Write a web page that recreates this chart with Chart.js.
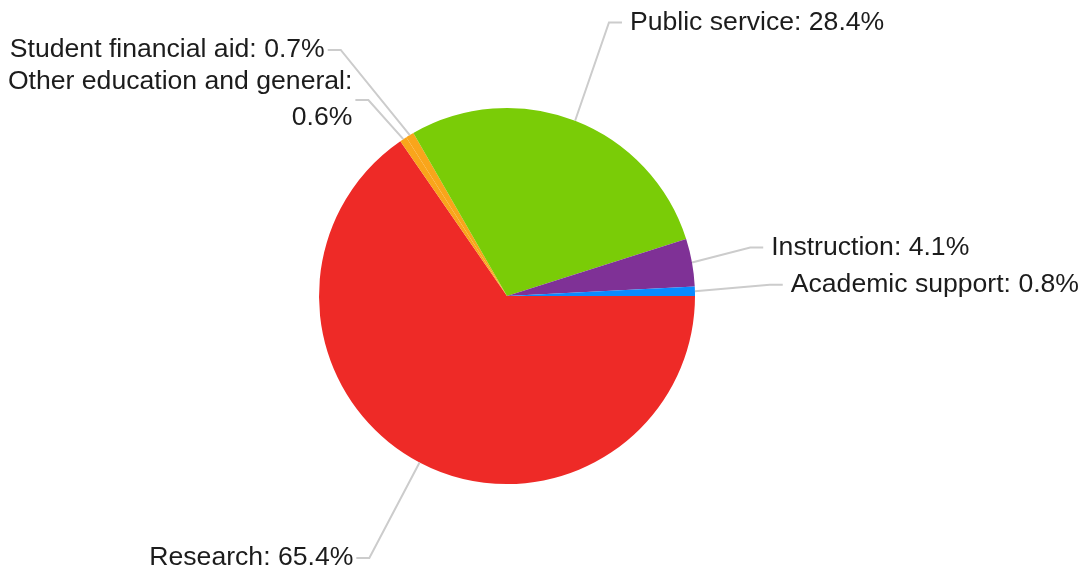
<!DOCTYPE html>
<html>
<head>
<meta charset="utf-8">
<script src="https://cdn.jsdelivr.net/npm/chart.js"></script>
<style>
  html, body { margin: 0; padding: 0; background: #fff; }
  #wrap { width: 1089px; height: 571px; }
</style>
</head>
<body>
<div id="wrap"><canvas id="pie" width="1089" height="571"></canvas></div>
<script>
// slices go clockwise from 3 o'clock in this order
const categories = ['Research', 'Other education and general', 'Student financial aid', 'Public service', 'Instruction', 'Academic support'];
const shares = [65.4, 0.6, 0.7, 28.4, 4.1, 0.8];
const sliceColors = ['#ee2a27', '#f9a51b', '#f9a51b', '#7acc07', '#7f3196', '#0a8aff'];

// label placement: elbow distance from centre (px) and angle nudge (deg)
const labelDist = [296, 240, 297, 292, 248, 263];
const labelTurn = [0, -1.8, -2.9, -0.8, -1.0, -1.0];
const labelWrap = [false, true, false, false, false, false];

const labelPlugin = {
  id: 'outsideLabels',
  afterDraw(chart) {
    const ctx = chart.ctx;
    const meta = chart.getDatasetMeta(0);
    ctx.save();
    ctx.font = '26.6px "Liberation Sans", Arial, sans-serif';
    ctx.textBaseline = 'middle';
    meta.data.forEach((arc, i) => {
      const p = arc.getProps(['x', 'y', 'startAngle', 'endAngle', 'outerRadius'], true);
      const mid = (p.startAngle + p.endAngle) / 2;
      const sx = p.x + Math.cos(mid) * p.outerRadius;
      const sy = p.y + Math.sin(mid) * p.outerRadius;
      const ea = mid + labelTurn[i] * Math.PI / 180;
      const ex = p.x + Math.cos(ea) * labelDist[i];
      const ey = p.y + Math.sin(ea) * labelDist[i];
      const right = Math.cos(ea) >= 0;
      const dir = right ? 1 : -1;
      const hx = ex + dir * 13;

      ctx.strokeStyle = '#cccccc';
      ctx.lineWidth = 2;
      ctx.beginPath();
      ctx.moveTo(sx, sy);
      ctx.lineTo(ex, ey);
      ctx.lineTo(hx, ey);
      ctx.stroke();

      const txt = categories[i] + ': ' + shares[i].toFixed(1) + '%';
      const lines = labelWrap[i] ? [categories[i] + ':', shares[i].toFixed(1) + '%'] : [txt];
      const lh = 36;
      ctx.fillStyle = '#1c1c1c';
      ctx.textAlign = right ? 'left' : 'right';
      const tx = hx + (right ? 8 : -3);
      lines.forEach((ln, k) => {
        ctx.fillText(ln, tx, ey + (k - (lines.length - 1) / 2) * lh);
      });
    });
    ctx.restore();
  }
};

new Chart(document.getElementById('pie'), {
  type: 'pie',
  data: {
    labels: categories,
    datasets: [{
      data: shares,
      backgroundColor: sliceColors,
      borderWidth: 0
    }]
  },
  options: {
    responsive: false,
    animation: false,
    devicePixelRatio: 1,
    rotation: 90,
    layout: { padding: { left: 319, right: 394, top: 108, bottom: 87 } },
    plugins: {
      legend: { display: false },
      tooltip: { enabled: false }
    }
  },
  plugins: [labelPlugin]
});
</script>
</body>
</html>
